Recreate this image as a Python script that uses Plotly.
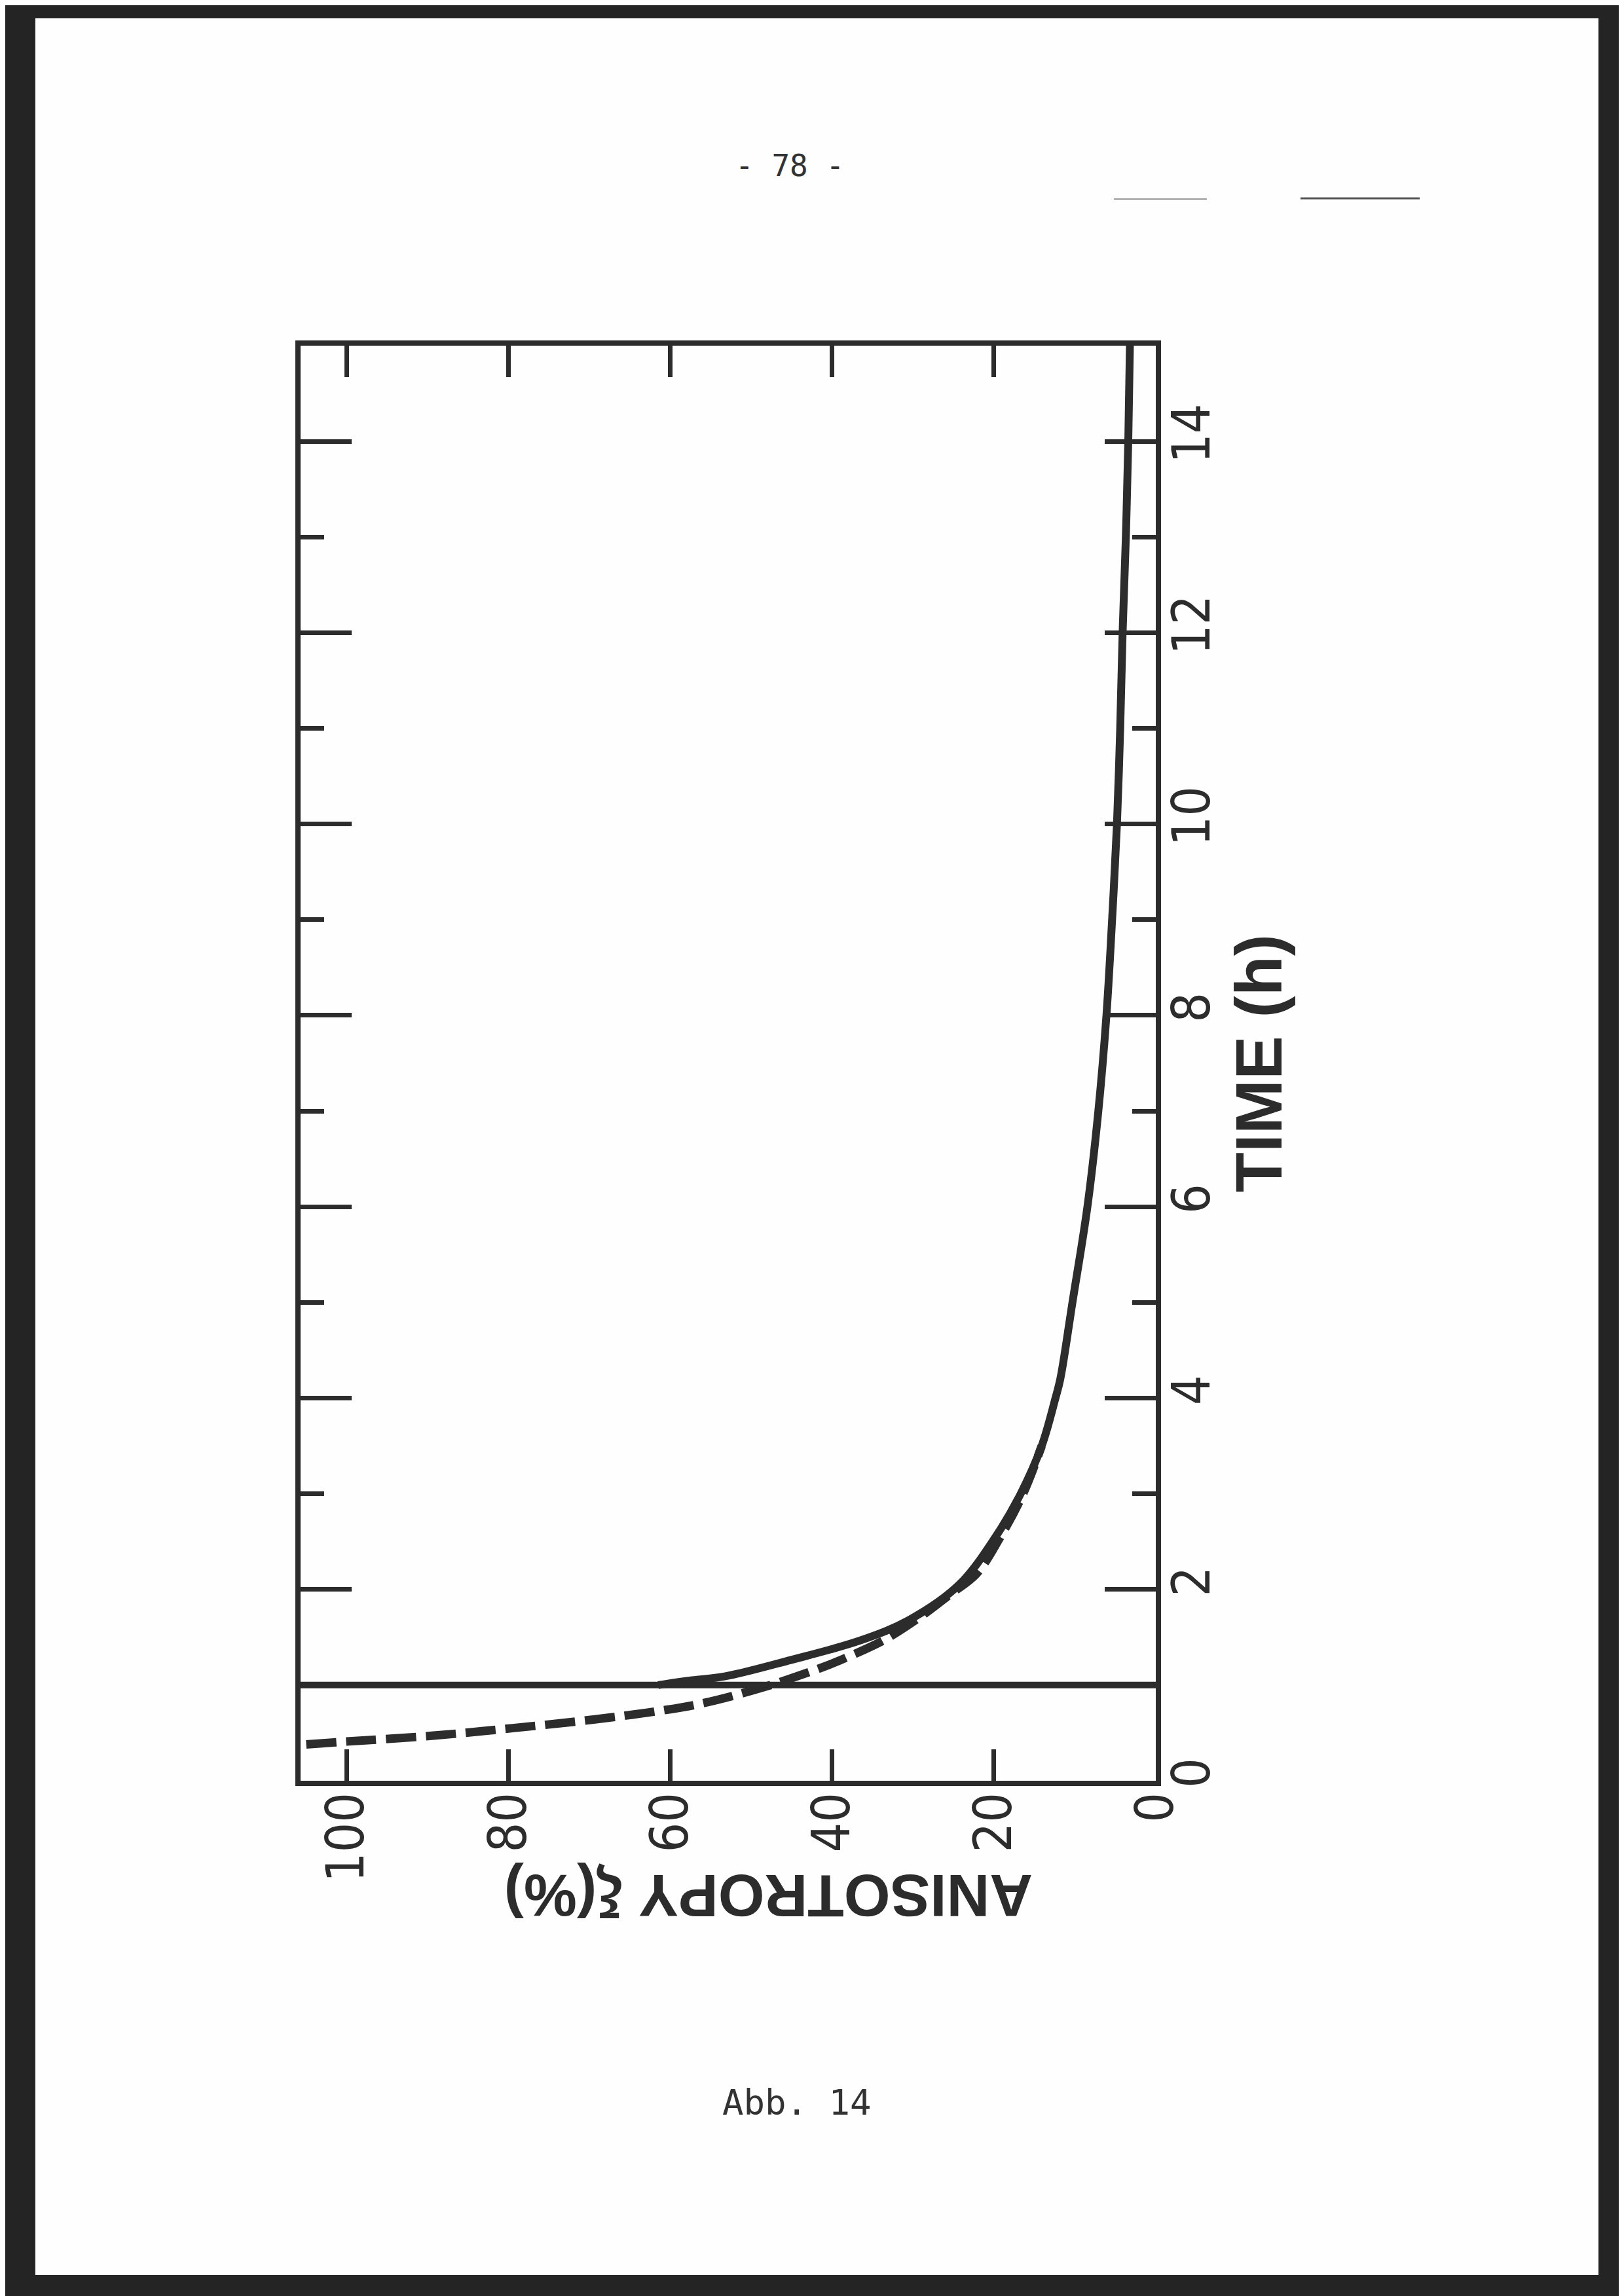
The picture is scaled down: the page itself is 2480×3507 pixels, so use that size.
import plotly.graph_objects as go

# ---------------- data ----------------
time_ticks = [0, 2, 4, 6, 8, 10, 12, 14]
aniso_ticks = [0, 20, 40, 60, 80, 100]

# solid curve: anisotropy (%) vs time (h)
solid_time = [1.0, 1.05, 1.09, 1.26, 1.47, 1.68, 2.05, 2.55, 3.0, 3.5, 4.0, 4.2,
              5.0, 6.0, 7.0, 8.0, 9.0, 10.0, 11.0, 12.0, 13.0, 14.0, 15.0]
solid_aniso = [61.5, 57.3, 53.3, 45.2, 36.4, 30.5, 24.3, 19.8, 16.7, 14.1, 12.4, 11.8,
               10.3, 8.45, 7.1, 6.1, 5.4, 4.8, 4.4, 4.1, 3.7, 3.4, 3.2]

# dashed curve
dashed_time = [0.38, 0.41, 0.47, 0.55, 0.64, 0.73, 0.81, 0.98, 1.18, 1.30,
               1.47, 1.72, 1.95, 2.16, 2.55, 3.0, 3.5]
dashed_aniso = [105.0, 100.0, 89.5, 79.5, 69.5, 61.4, 56.0, 48.4, 41.4, 37.9,
                33.6, 29.0, 25.4, 22.2, 19.2, 16.4, 14.1]

step_time = 1.0           # horizontal line at t = 1 h
x_range = [105.7, 0]      # anisotropy axis (reversed)
y_range = [0, 15]         # time axis

x_title = "ANISOTROPY ξ(%)"
y_title = "TIME (h)"
page_number = "- 78 -"
caption = "Abb. 14"

# ---------------- layout geometry ----------------
W, H = 2480, 3507
L, R, T, B = 451, 1757, 520, 2712
INK = "#2c2c2c"
SCAN = "#242424"
PAPER = "#fefefe"
NARROW = "Liberation Sans Narrow, DejaVu Sans Condensed, Liberation Sans, sans-serif"
SANS = "Liberation Sans, Arial, sans-serif"
MONO = "DejaVu Sans Mono, Liberation Mono, monospace"

SHEET_L, SHEET_R, SHEET_T, SHEET_B = 46, 2433, 20, 3467


def px(xp):
    return (xp - L) / (R - L)


def py(yp):
    return (B - yp) / (B - T)


def hband(y_top, y_bot):
    yc = (y_top + y_bot) / 2
    return dict(type="line", xref="paper", yref="paper",
                x0=px(0), x1=px(W), y0=py(yc), y1=py(yc),
                line=dict(color=SCAN, width=y_bot - y_top), layer="above")


def vband(x_left, x_right):
    xc = (x_left + x_right) / 2
    return dict(type="line", xref="paper", yref="paper",
                x0=px(xc), x1=px(xc), y0=py(H), y1=py(0),
                line=dict(color=SCAN, width=x_right - x_left), layer="above")


fig = go.Figure()

fig.add_trace(go.Scatter(
    x=dashed_aniso, y=dashed_time, mode="lines",
    line=dict(color=INK, width=13, dash="46px,15px", shape="spline", smoothing=1.0),
    hoverinfo="skip"))

fig.add_trace(go.Scatter(
    x=solid_aniso, y=solid_time, mode="lines",
    line=dict(color=INK, width=12, shape="spline", smoothing=1.0),
    hoverinfo="skip"))

shapes = [
    # dark scanner border around the sheet
    hband(0, SHEET_T),
    hband(SHEET_B, H),
    vband(SHEET_R, W),
    vband(0, SHEET_L),
    # stray marks at top right of the page
    dict(type="line", xref="paper", yref="paper", x0=px(1693), x1=px(1835),
         y0=py(296), y1=py(296), line=dict(color="#9a9a9a", width=2), layer="below"),
    dict(type="line", xref="paper", yref="paper", x0=px(1978), x1=px(2160),
         y0=py(295), y1=py(295), line=dict(color="#555555", width=3), layer="below"),
]

annotations = [
    dict(text=x_title, xref="paper", yref="paper", x=px(1166), y=py(2888),
         showarrow=False, textangle=180, xanchor="center", yanchor="middle",
         font=dict(family=SANS, size=91, color=INK, weight="bold")),
    dict(text=page_number, xref="paper", yref="paper", x=px(1198), y=py(245),
         showarrow=False, xanchor="center", yanchor="middle",
         font=dict(family=MONO, size=46, color="#333333")),
    dict(text=caption, xref="paper", yref="paper", x=px(1209), y=py(3203),
         showarrow=False, xanchor="center", yanchor="middle",
         font=dict(family=MONO, size=54, color="#333333")),
]

fig.update_layout(
    width=W, height=H,
    margin=dict(l=L, r=W - R, t=T, b=H - B, pad=0),
    paper_bgcolor=PAPER,
    plot_bgcolor=PAPER,
    showlegend=False,
    shapes=shapes,
    annotations=annotations,
)

# step line at t = 1 h across the whole anisotropy range (added after the layout shapes)
fig.add_hline(y=step_time, line=dict(color=INK, width=10))

fig.update_xaxes(
    range=x_range, tickmode="array", tickvals=aniso_ticks,
    ticks="inside", ticklen=48, tickwidth=7, tickcolor=INK,
    showline=True, linewidth=8, linecolor=INK, mirror="allticks",
    tickangle=-90, tickfont=dict(family=NARROW, size=80, color=INK),
    ticklabelstandoff=-22,
    showgrid=False, zeroline=False,
)

fig.update_yaxes(
    range=y_range, side="right", tickmode="array", tickvals=time_ticks,
    ticks="inside", ticklen=78, tickwidth=7, tickcolor=INK,
    minor=dict(dtick=1, ticks="inside", ticklen=36, tickwidth=7, tickcolor=INK, showgrid=False),
    showline=True, linewidth=8, linecolor=INK, mirror="allticks",
    tickangle=-90, tickfont=dict(family=NARROW, size=80, color=INK),
    ticklabelstandoff=-22,
    title=dict(text=y_title, standoff=20,
               font=dict(family=SANS, size=100, color=INK, weight="bold")),
    showgrid=False, zeroline=False,
)

fig.write_html("out.html")
